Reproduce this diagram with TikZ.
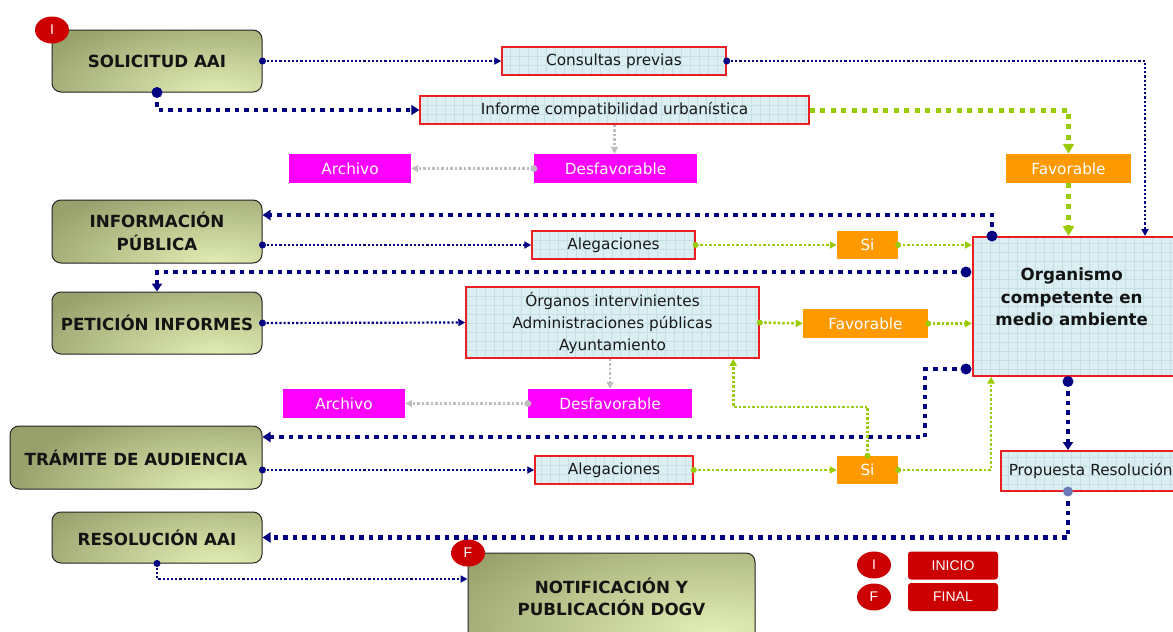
\documentclass[tikz,border=0pt]{standalone}
\usepackage{fontspec}
\setmainfont{DejaVu Sans}
\newfontfamily\labfont{Liberation Sans}
\usetikzlibrary{arrows.meta,calc,shapes.geometric}
\definecolor{navy}{RGB}{0,0,128}
\definecolor{lgreen}{RGB}{153,204,0}
\definecolor{orng}{RGB}{255,153,0}
\definecolor{mgnt}{RGB}{255,0,255}
\definecolor{lgrey}{RGB}{190,190,190}
\definecolor{bfill}{RGB}{219,238,242}
\definecolor{bgrid}{RGB}{196,224,230}
\definecolor{bred}{RGB}{235,30,35}
\definecolor{oliveD}{RGB}{152,161,108}
\definecolor{oliveL}{RGB}{228,240,182}
\definecolor{badgered}{RGB}{204,0,0}
\tikzset{
  phasebase/.style={rounded corners=9pt, draw=black!85, line width=1pt, fill=oliveD,
    font=\bfseries\fontsize{16.7}{22.5}\selectfont, align=center, inner sep=0pt, text=black!92},
  phase/.style={phasebase,
    path picture={\shade[inner color=oliveL, outer color=oliveD]
      ($(path picture bounding box.south east)+(-45,3)$) ellipse [x radius=200pt, y radius=85pt];}},
  bigphase/.style={phasebase,
    path picture={\shade[inner color=oliveL, outer color=oliveD]
      ($(path picture bounding box.south east)+(-40,-8)$) ellipse [x radius=300pt, y radius=120pt];}},
  infobox/.style={draw=bred, line width=1.5pt, fill=bfill, inner sep=0pt, align=center,
    font=\fontsize{15.3}{22}\selectfont, text=black!90,
    path picture={\draw[bgrid, line width=0.6pt, step=9pt]
      (path picture bounding box.south west) grid (path picture bounding box.north east);}},
  orbox/.style={fill=orng, text=white, inner sep=0pt, font=\fontsize{15.3}{18}\selectfont},
  mgbox/.style={fill=mgnt, text=white, inner sep=0pt, font=\fontsize{15.3}{18}\selectfont},
  badge/.style={ellipse, fill=badgered, text=white, inner sep=0pt, minimum width=34pt,
    minimum height=27pt, font=\labfont\fontsize{14}{16}\selectfont},
  legbox/.style={rounded corners=3pt, fill=badgered, text=white, inner sep=0pt,
    minimum width=90pt, minimum height=28pt, font=\labfont\fontsize{14}{16}\selectfont},
  navythin/.style={draw=navy, line width=2.2pt, dash pattern=on 2.2pt off 2pt,
    -{Triangle[length=7pt,width=7pt]}},
  navythick/.style={draw=navy, line width=4.5pt, dash pattern=on 4.5pt off 5pt,
    -{Triangle[length=8pt,width=10pt]}},
  gthin/.style={draw=lgreen, line width=2.5pt, dash pattern=on 2.5pt off 2pt,
    -{Triangle[length=7pt,width=7pt]}},
  gthick/.style={draw=lgreen, line width=5pt, dash pattern=on 5pt off 5.5pt,
    -{Triangle[length=10pt,width=11pt]}},
  greyl/.style={draw=lgrey, line width=2.5pt, dash pattern=on 2.5pt off 2pt,
    -{Triangle[length=7pt,width=7pt]}},
}
\begin{document}
\begin{tikzpicture}[x=1pt,y=-1pt]
\useasboundingbox (0,0) rectangle (1173,632);
% phase boxes
\node[phase, minimum width=210pt, minimum height=62pt] (sol) at (157,61) {SOLICITUD AAI};
\node[phase, minimum width=210pt, minimum height=63pt] (infp) at (157,231.5) {INFORMACIÓN\\PÚBLICA};
\node[phase, minimum width=210pt, minimum height=62pt] (pet) at (157,323) {PETICIÓN INFORMES};
\node[phase, minimum width=252pt, minimum height=63pt] (tram) at (136,457.5) {TRÁMITE DE AUDIENCIA};
\node[phase, minimum width=210pt, minimum height=51pt] (res) at (157,537.5) {RESOLUCIÓN AAI};
\node[bigphase, minimum width=287pt, minimum height=88pt] (notif) at (611.5,597) {NOTIFICACIÓN Y\\PUBLICACIÓN DOGV};
\node[badge] (bI) at (52,30) {I};
\node[badge] (bF) at (468,553) {F};
% info boxes
\node[infobox, minimum width=224pt, minimum height=28pt] (cons) at (614,61) {Consultas previas};
\node[infobox, minimum width=389pt, minimum height=28pt] (inf) at (614.5,110) {Informe compatibilidad urbanística};
\node[infobox, minimum width=163pt, minimum height=28pt] (aleg1) at (613.5,245) {Alegaciones};
\node[infobox, minimum width=293pt, minimum height=71pt] (org1) at (612.5,322.5) {Órganos intervinientes\\Administraciones públicas\\Ayuntamiento};
\node[infobox, minimum width=158pt, minimum height=28pt] (aleg2) at (614,470) {Alegaciones};
\node[infobox, anchor=north west, minimum width=215pt, minimum height=139pt,
  label={[name=orgtxt, font=\bfseries\fontsize{16.7}{22.5}\selectfont, align=center, text=black!92, xshift=-8.5pt, yshift=9pt]center:Organismo\\competente en\\medio ambiente}] (org) at (972,236) {};
\node[infobox, anchor=north west, minimum height=40pt, inner xsep=8pt, text width=172pt, align=left] (prop) at (1000,450) {Propuesta Resolución};
% orange / magenta
\node[orbox, minimum width=125pt, minimum height=29pt] (fav1) at (1068.5,168.5) {Favorable};
\node[orbox, minimum width=61pt, minimum height=28pt] (si1) at (867.5,245) {Si};
\node[orbox, minimum width=125pt, minimum height=29pt] (fav2) at (865.5,323.5) {Favorable};
\node[orbox, minimum width=61pt, minimum height=28pt] (si2) at (867.5,470) {Si};
\node[mgbox, minimum width=122pt, minimum height=29pt] (arch1) at (350,168.5) {Archivo};
\node[mgbox, minimum width=163pt, minimum height=29pt] (desf1) at (615.5,168.5) {Desfavorable};
\node[mgbox, minimum width=122pt, minimum height=29pt] (arch2) at (344,403.5) {Archivo};
\node[mgbox, minimum width=164pt, minimum height=29pt] (desf2) at (610,403.5) {Desfavorable};
% legend
\node[badge] (lI) at (874,565) {I};
\node[badge] (lF) at (874,597) {F};
\node[legbox] (lini) at (953,565.5) {INICIO};
\node[legbox] (lfin) at (953,597) {FINAL};
% connector points
\coordinate (cp2) at ($(org.north west)+(173,0)$);
\coordinate (o1) at ($(org.north west)+(20,0)$);
\coordinate (o2) at ($(org.north west)+(-6,36)$);
\coordinate (o3) at ($(org.north west)+(-6,133)$);
\coordinate (o4) at ($(org.south west)+(96,5)$);
\coordinate (o5) at ($(org.south west)+(19,0)$);
\coordinate (p1) at ($(prop.south west)+(68,0)$);
% connectors
\draw[navythin] (sol.east) -- (cons.west);
\draw[navythin] (cons.east) -| (cp2);
\draw[navythick] (sol.south) |- (inf.west);
\draw[gthick] (inf.east) -| (fav1.north);
\draw[gthick] (fav1.south) -- (fav1.south |- org.north);
\draw[greyl] (inf.south) -- (inf.south |- desf1.north);
\draw[greyl] (desf1.west) -- (arch1.east);
\draw[navythick] (o1) |- ($(infp.east)+(0,-16.5)$);
\draw[navythin] (infp.east |- aleg1.west) -- (aleg1.west);
\draw[gthin] (aleg1.east) -- (si1.west);
\draw[gthin] (si1.east) -- (org.west |- si1.east);
\draw[navythick] (o2) -| (pet.north);
\draw[navythin] (pet.east) -- (org1.west);
\draw[gthin] (org1.east) -- (fav2.west);
\draw[gthin] (fav2.east) -- (org.west |- fav2.east);
\draw[greyl] (desf2.north |- org1.south) -- (desf2.north);
\draw[greyl] (desf2.west) -- (arch2.east);
\draw[navythick] (o3) -- ++(-41,0) |- ($(tram.east)+(0,-20.5)$);
\draw[navythin] (tram.east |- aleg2.west) -- (aleg2.west);
\draw[gthin] (aleg2.east) -- (si2.west);
\draw[gthin] (si2.north) -- ++(0,-49) -| ($(org1.south west)+(268,0)$);
\draw[gthin] (si2.east) -| (o5);
\draw[navythick] (o4) -- (o4 |- prop.north);
\draw[navythick] (p1) |- (res.east);
\draw[navythin] (res.south) |- ($(notif.west)+(0,-18)$);
% start dots
\fill[navy] (sol.east) circle (3.5pt);
\fill[navy] (cons.east) circle (3.5pt);
\fill[navy] (sol.south) circle (5.5pt);
\fill[navy] (o1) circle (5.5pt);
\fill[navy] (infp.east |- aleg1.west) circle (3.5pt);
\fill[navy] (o2) circle (5.5pt);
\fill[navy] (pet.east) circle (3.5pt);
\fill[navy] (o3) circle (5.5pt);
\fill[navy] (tram.east |- aleg2.west) circle (3.5pt);
\fill[navy] (o4) circle (5.5pt);
\fill[navy!45!bgrid] (p1) circle (5pt);
\fill[navy] (res.south) circle (3.5pt);
\fill[lgrey] (desf1.west) circle (3.5pt);
\fill[lgrey] (desf2.west) circle (3.5pt);
\fill[lgreen] (aleg1.east) circle (3pt);
\fill[lgreen] (si1.east) circle (3pt);
\fill[lgreen] (org1.east) circle (3pt);
\fill[lgreen] (fav2.east) circle (3pt);
\fill[lgreen] (aleg2.east) circle (3pt);
\fill[lgreen] (si2.east) circle (3pt);
\fill[lgreen] (si2.north) circle (3pt);
\end{tikzpicture}
\end{document}
